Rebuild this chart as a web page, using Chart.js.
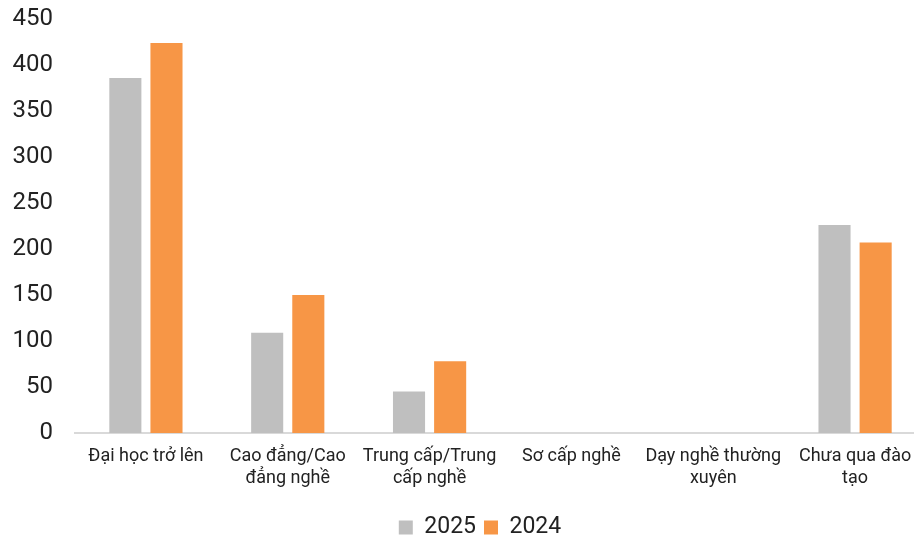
<!DOCTYPE html>
<html>
<head>
<meta charset="utf-8">
<script src="https://cdn.jsdelivr.net/npm/chart.js@4/dist/chart.umd.min.js"></script>
<style>
  html, body { margin: 0; padding: 0; background: #fff; overflow: hidden; }
  #clip { width: 914px; height: 537px; overflow: hidden; }
  #wrap { width: 926px; height: 537px; }
</style>
</head>
<body>
<div id="clip"><div id="wrap"><canvas id="chart"></canvas></div></div>
<script>
var categories = [
    ['Đại học trở lên'],
    ['Cao đẳng/Cao', 'đẳng nghề'],
    ['Trung cấp/Trung', 'cấp nghề'],
    ['Sơ cấp nghề'],
    ['Dạy nghề thường', 'xuyên'],
    ['Chưa qua đào', 'tạo']
];
var values2025 = [386, 109, 45, 0, 0, 226];
var values2024 = [424, 150, 78, 0, 0, 207];
var yTicks = [0, 50, 100, 150, 200, 250, 300, 350, 400, 450];

// legend in the original sits a bit right of the canvas centre
var legendShift = {
    id: 'legendShift',
    afterLayout: function (chart) {
        chart.legend.left += 17;
        chart.legend.right += 17;
    }
};

var chart = new Chart(document.getElementById('chart'), {
    type: 'bar',
    data: {
        labels: categories,
        datasets: [
            { label: '2025', data: values2025, backgroundColor: '#BFBFBF' },
            { label: '2024', data: values2024, backgroundColor: '#F79646' }
        ]
    },
    options: {
        responsive: true,
        maintainAspectRatio: false,
        animation: false,
        layout: { padding: { left: 0, right: 0, top: 0, bottom: -12 } },
        datasets: { bar: { categoryPercentage: 0.58, barPercentage: 0.78 } },
        plugins: {
            legend: {
                position: 'bottom',
                labels: {
                    boxWidth: 14, boxHeight: 14, padding: 8,
                    color: '#222',
                    font: { family: 'Roboto', size: 23 }
                }
            },
            tooltip: { enabled: false }
        },
        scales: {
            x: {
                afterFit: function (axis) { axis.height = 75; },
                grid: { display: false, drawTicks: false },
                border: { color: '#D9D9D9', width: 2 },
                ticks: {
                    color: '#222', padding: 12, maxRotation: 0, autoSkip: false,
                    font: { family: 'Roboto', size: 18, lineHeight: 1.25 }
                }
            },
            y: {
                min: 0, max: 450,
                afterFit: function (axis) { axis.width = 75; axis.paddingTop = 19; },
                afterBuildTicks: function (axis) {
                    axis.ticks = yTicks.map(function (v) { return { value: v }; });
                },
                grid: { display: false, drawTicks: false },
                border: { display: false },
                ticks: {
                    color: '#222', padding: 22,
                    font: { family: 'Roboto', size: 24 }
                }
            }
        }
    },
    plugins: [legendShift]
});
</script>
</body>
</html>
